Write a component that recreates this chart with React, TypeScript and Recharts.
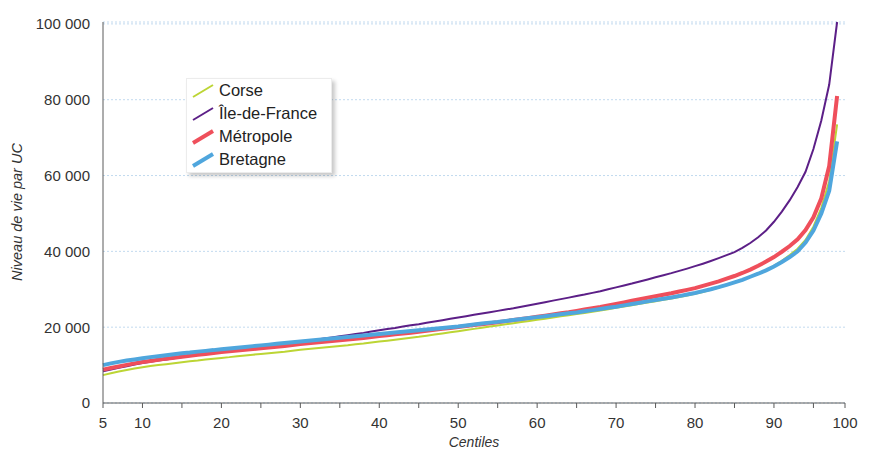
import React from 'react';
import { LineChart, Line, XAxis, YAxis, CartesianGrid, Label } from 'recharts';

// centiles de niveau de vie (5e au 98e)
const centiles = [
  5, 6, 7, 8, 9, 10, 11, 12, 13, 14, 15, 16, 17, 18, 19, 20, 21, 22, 23, 24,
  25, 26, 27, 28, 29, 30, 31, 32, 33, 34, 35, 36, 37, 38, 39, 40, 41, 42, 43, 44,
  45, 46, 47, 48, 49, 50, 51, 52, 53, 54, 55, 56, 57, 58, 59, 60, 61, 62, 63, 64,
  65, 66, 67, 68, 69, 70, 71, 72, 73, 74, 75, 76, 77, 78, 79, 80, 81, 82, 83, 84,
  85, 86, 87, 88, 89, 90, 91, 92, 93, 94, 95, 96, 97, 98,
];

const corse = [
  7350, 7850, 8300, 8700, 9100, 9450, 9750, 10000, 10250, 10500, 10750, 11000, 11200, 11450, 11700, 11900, 12100, 12350, 12550, 12750,
  12950, 13150, 13350, 13550, 13800, 14050, 14250, 14450, 14650, 14850, 15050, 15250, 15500, 15700, 15950, 16200, 16450, 16700, 16950, 17200,
  17450, 17750, 18050, 18350, 18650, 18950, 19250, 19550, 19850, 20150, 20450, 20750, 21050, 21350, 21650, 21950, 22250, 22550, 22850, 23150,
  23450, 23750, 24050, 24400, 24750, 25100, 25450, 25800, 26150, 26500, 26850, 27200, 27550, 27950, 28350, 28800, 29300, 29850, 30450, 31100,
  31800, 32500, 33300, 34150, 35100, 36200, 37500, 39000, 40700, 43000, 46500, 51500, 58500, 73500,
];

const ileDeFrance = [
  8400, 8850, 9300, 9700, 10150, 10550, 10900, 11200, 11500, 11800, 12100, 12400, 12650, 12900, 13150, 13400, 13700, 14000, 14300, 14550,
  14800, 15050, 15300, 15600, 15900, 16200, 16450, 16700, 17000, 17300, 17600, 17900, 18200, 18500, 18850, 19200, 19500, 19800, 20150, 20500,
  20800, 21150, 21500, 21850, 22200, 22550, 22900, 23250, 23600, 23950, 24300, 24650, 25000, 25400, 25800, 26200, 26600, 27000, 27400, 27800,
  28200, 28600, 29050, 29500, 30000, 30500, 31000, 31500, 32050, 32600, 33150, 33700, 34250, 34850, 35450, 36100, 36750, 37450, 38200, 39000,
  39800, 40900, 42200, 43700, 45500, 47800, 50500, 53500, 57000, 61000, 67000, 74500, 84000, 100500,
];

const metropole = [
  8800, 9250, 9650, 10050, 10450, 10800, 11100, 11400, 11700, 11950, 12200, 12450, 12700, 12950, 13200, 13450, 13650, 13850, 14050, 14250,
  14450, 14650, 14850, 15050, 15300, 15550, 15750, 15950, 16150, 16350, 16550, 16750, 16950, 17150, 17400, 17650, 17850, 18100, 18300, 18550,
  18800, 19050, 19300, 19550, 19800, 20050, 20300, 20550, 20800, 21050, 21300, 21600, 21900, 22150, 22450, 22750, 23050, 23350, 23650, 23950,
  24300, 24650, 25000, 25350, 25750, 26150, 26550, 26950, 27350, 27750, 28150, 28550, 28950, 29400, 29850, 30300, 30900, 31500, 32100, 32800,
  33500, 34300, 35200, 36200, 37300, 38500, 39900, 41400, 43200, 45600, 49000, 54000, 62500, 81000,
];

const bretagne = [
  10000, 10450, 10850, 11200, 11500, 11800, 12100, 12350, 12600, 12850, 13100, 13300, 13550, 13750, 13950, 14200, 14400, 14600, 14800, 15000,
  15200, 15400, 15600, 15800, 16000, 16200, 16400, 16600, 16800, 17000, 17200, 17400, 17600, 17800, 18000, 18200, 18400, 18600, 18800, 19000,
  19200, 19400, 19600, 19800, 20000, 20200, 20450, 20700, 20950, 21200, 21400, 21650, 21900, 22150, 22400, 22650, 22900, 23150, 23400, 23650,
  23900, 24200, 24500, 24800, 25100, 25400, 25750, 26100, 26450, 26800, 27150, 27500, 27850, 28200, 28600, 29000, 29500, 30000, 30550, 31150,
  31800, 32500, 33300, 34100, 35000, 36000, 37200, 38500, 40000, 42300, 45500, 50000, 56000, 69000,
];

const xTicks = [5, 10, 15, 20, 25, 30, 35, 40, 45, 50, 55, 60, 65, 70, 75, 80, 85, 90, 95, 99];
const yTicks = [0, 20000, 40000, 60000, 80000, 100000];

const SERIES = [
  { key: 'corse', name: 'Corse', color: '#bcd534', width: 2 },
  { key: 'idf', name: 'Île-de-France', color: '#5c1f87', width: 2 },
  { key: 'metro', name: 'Métropole', color: '#ef4f5b', width: 4 },
  { key: 'bret', name: 'Bretagne', color: '#4fa6dd', width: 4 },
];

const data = centiles.map((c, i) => ({
  c,
  corse: corse[i],
  idf: ileDeFrance[i],
  metro: metropole[i],
  bret: bretagne[i],
}));

const font = '"Liberation Sans", Arial, sans-serif';
const axisColor = '#5a5a5a';

const fmtY = (v: number) => (v === 0 ? '0' : `${Math.floor(v / 1000)} ${String(v % 1000).padStart(3, '0')}`);
const fmtX = (v: number) => {
  if (v === 99) return '100';
  if (v === 5 || v % 10 === 0) return String(v);
  return '';
};

// legend box drawn over the plot, like the original
function LegendBox() {
  return (
    <div style={{
      position: 'absolute', left: 186, top: 78, width: 146, height: 95,
      background: '#fff', border: '1px solid #ececec', boxShadow: '3px 3px 4px rgba(0,0,0,0.22)',
      padding: '0 0 0 4px', boxSizing: 'border-box', fontFamily: font,
    }}>
      {SERIES.map((s) => (
        <div key={s.key} style={{ display: 'flex', alignItems: 'center', height: 23 }}>
          <svg width={28} height={16} style={{ flexShrink: 0 }}>
            <line x1={2} y1={14} x2={22} y2={2} stroke={s.color} strokeWidth={s.width === 4 ? 4 : 2} />
          </svg>
          <span style={{ fontSize: 16.5, color: '#222' }}>{s.name}</span>
        </div>
      ))}
    </div>
  );
}

export default function App() {
  return (
    <div style={{ position: 'fixed', left: 0, top: 0, width: 871, height: 450, background: '#fff' }}>
      <LineChart width={871} height={450} data={data} margin={{ top: 22, right: 26, left: 0, bottom: 0 }}>
        <CartesianGrid vertical={false} stroke="#c2daef" strokeDasharray="2 2" />
        <XAxis
          dataKey="c" type="number" domain={[5, 99]} ticks={xTicks} interval={0}
          tickFormatter={fmtX} height={47}
          stroke={axisColor} tickSize={5} tickMargin={9}
          tick={{ fill: '#333', fontSize: 15, fontFamily: font }}
        >
          <Label content={() => (
            <text x={474} y={447} textAnchor="middle" fontStyle="italic" fontSize={14} fill="#333" fontFamily={font}>Centiles</text>
          )} />
        </XAxis>
        <YAxis
          type="number" domain={[0, 100000]} ticks={yTicks} interval={0}
          tickFormatter={fmtY} width={103}
          stroke={axisColor} tickLine={false} tickSize={6} tickMargin={7}
          tick={{ fill: '#333', fontSize: 15, fontFamily: font }}
        >
          <Label content={() => (
            <text x={22} y={212} transform="rotate(-90 22 212)" textAnchor="middle" fontStyle="italic" fontSize={14.5} fill="#333" fontFamily={font}>
              Niveau de vie par UC
            </text>
          )} />
        </YAxis>
        {SERIES.map((s) => (
          <Line
            key={s.key} type="linear" dataKey={s.key} name={s.name}
            stroke={s.color} strokeWidth={s.width} dot={false} activeDot={false}
            isAnimationActive={false}
          />
        ))}
      </LineChart>
      <LegendBox />
    </div>
  );
}
